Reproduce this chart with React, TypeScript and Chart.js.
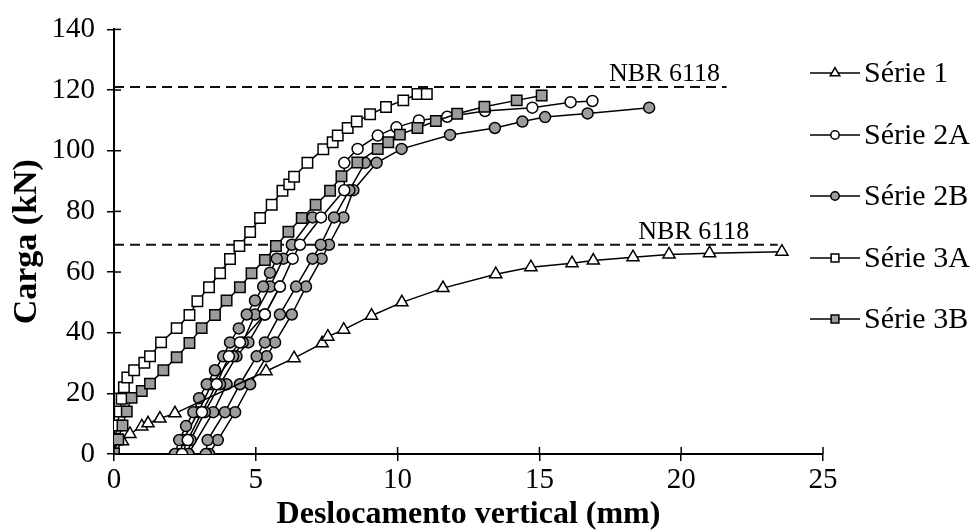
import React, { useEffect, useRef } from "react";
import { Chart, registerables } from "chart.js";
Chart.register(...registerables);

type P = [number, number];

// ---- data (Deslocamento vertical mm, Carga kN) ----
const serie1: P[] = [[0,0],[0.3,4.2],[0.56,6.6],[0.98,9.1],[1.2,10.1],[1.62,11.7],[2.15,13.4],[5.36,27.3],[6.35,31.6],[7.34,36.5],[7.54,38.7],[8.1,41],[9.08,45.6],[10.15,50],[11.6,54.7],[13.46,59.3],[14.7,61.6],[16.15,62.9],[16.9,63.8],[18.3,64.9],[19.57,65.8],[21.0,66.2],[23.55,66.7]];

const serie2A: P[] = [[2.4,0],[2.6,4.6],[3.1,13.8],[3.62,23],[4.05,32.2],[4.44,36.8],[5.32,46],[5.85,55.2],[6.3,64.4],[6.56,69],[7.3,78],[8.12,87],[8.12,96],[8.59,100.6],[9.3,105],[9.96,107.7],[10.75,110],[11.75,111.2],[13.08,113.1],[14.75,114.2],[16.1,116],[16.87,116.4]];

const serie2B_a: P[] = [[2.15,0],[2.3,4.6],[2.54,9.2],[2.8,13.8],[3.0,18.4],[3.27,23],[3.56,27.6],[3.85,32.2],[4.09,36.8],[4.4,41.4],[4.68,46],[4.97,50.6],[5.26,55.2],[5.5,59.8],[5.74,64.4]];
const serie2B_b: P[] = [[2.33,0],[2.44,4.6],[2.97,13.8],[3.44,23],[4.2,32.2],[4.54,36.8],[4.97,46],[5.5,55.2],[5.97,64.4],[6.27,69],[7.0,78]];
const serie2B_c: P[] = [[2.62,0],[2.7,4.6],[3.2,13.8],[3.74,23],[4.32,32.2],[4.74,36.8],[5.32,46],[5.85,55.2]];
const serie2B_d: P[] = [[2.62,0],[3.5,13.8],[3.97,23]];
const serie2B_e: P[] = [[3.24,0],[3.3,4.6],[3.91,13.8],[4.44,23],[5.03,32.2],[5.32,36.8],[5.85,46],[6.42,55.2],[7.0,64.4],[7.29,69],[7.76,78],[8.3,87],[8.85,96]];
const serie2B_f: P[] = [[3.35,0],[3.66,4.6],[4.27,13.8],[4.8,23],[5.38,32.2],[5.68,36.8],[6.27,46],[6.77,55.2],[7.32,64.4],[7.58,69],[8.09,78],[8.44,87],[9.26,96],[10.14,100.6],[11.85,105.2],[13.43,107.5],[14.4,109.6],[15.2,111.1],[16.7,112.3],[18.87,114.2]];

const serie3A: P[] = [[0,0],[0.04,5],[0.12,9.4],[0.2,14],[0.27,18.2],[0.35,22],[0.47,25.2],[0.71,27.6],[1.07,30.1],[1.27,32.2],[1.66,36.8],[2.21,41.5],[2.66,45.8],[2.94,50.4],[3.35,55],[3.74,59.6],[4.09,64.3],[4.42,68.6],[4.8,73.2],[5.15,77.8],[5.56,82.2],[5.94,86.8],[6.18,88.9],[6.35,91.4],[6.82,96],[7.38,100.5],[7.71,102.8],[7.89,105],[8.24,107.5],[8.56,109.6],[9.03,112],[9.59,114.4],[10.2,116.6],[10.7,118.7],[11.03,118.7]];

const serie3B: P[] = [[0,0.2],[0.15,4.8],[0.3,9.4],[0.45,14],[0.62,18.5],[0.98,20.8],[1.27,23.2],[1.74,27.6],[2.21,31.9],[2.66,36.6],[3.09,41.5],[3.56,45.8],[3.97,50.6],[4.44,55],[4.85,59.6],[5.32,64],[5.71,68.6],[6.15,73.3],[6.62,77.8],[7.11,82.2],[7.62,86.8],[8.02,91.6],[8.58,96.1],[9.3,100.6],[9.67,102.8],[10.08,105.3],[10.7,107.5],[11.35,109.8],[12.1,112.2],[13.06,114.5],[14.2,116.6],[15.08,118.2]];

const nbrLoads = [121, 69];
const nbrLineEnds = [21.6, 23.4];
const nbrLabelRight = [21.37, 22.4];
const nbrLabel = "NBR 6118";

const xTickValues = [0, 5, 10, 15, 20, 25];
const yTickValues = [0, 20, 40, 60, 80, 100, 120, 140];
const xTitle = "Deslocamento vertical (mm)";
const yTitle = "Carga (kN)";
const legendNames = ["Série 1", "Série 2A", "Série 2B", "Série 3A", "Série 3B"];

const FONT = "'Liberation Serif', 'Times New Roman', Times, serif";
const GRAY = "#9c9c9c";

type Style = { shape: "triangle" | "circle" | "rect"; fill: string; r: number; lr: number };
const styles: Style[] = [
  { shape: "triangle", fill: "#ffffff", r: 7, lr: 5.5 },
  { shape: "circle", fill: "#ffffff", r: 5.5, lr: 4.2 },
  { shape: "circle", fill: GRAY, r: 5.5, lr: 4.2 },
  { shape: "rect", fill: "#ffffff", r: 7.4, lr: 5.5 },
  { shape: "rect", fill: GRAY, r: 7.4, lr: 5.5 },
];

const toXY = (arr: P[]) => arr.map(([x, y]) => ({ x, y }));

function ds(arr: P[], s: Style, order: number) {
  return {
    data: toXY(arr),
    borderColor: "#000",
    borderWidth: 1.5,
    pointStyle: s.shape,
    pointRadius: s.r,
    pointBackgroundColor: s.fill,
    pointBorderColor: "#000",
    pointBorderWidth: 1.5,
    showLine: true,
    fill: false,
    tension: 0,
    order,
  };
}

function drawMarker(ctx: CanvasRenderingContext2D, s: Style, x: number, y: number, r: number) {
  ctx.beginPath();
  if (s.shape === "circle") ctx.arc(x, y, r, 0, Math.PI * 2);
  else if (s.shape === "rect") {
    const h = r * Math.SQRT1_2;
    ctx.rect(x - h, y - h, 2 * h, 2 * h);
  } else {
    const a = (2 * Math.PI) / 3;
    ctx.moveTo(x, y - r);
    ctx.lineTo(x + Math.sin(a) * r, y - Math.cos(a) * r);
    ctx.lineTo(x + Math.sin(2 * a) * r, y - Math.cos(2 * a) * r);
    ctx.closePath();
  }
  ctx.fillStyle = s.fill;
  ctx.fill();
  ctx.lineWidth = 1.5;
  ctx.strokeStyle = "#000";
  ctx.stroke();
}

const extras = {
  id: "extras",
  afterDraw(chart: any) {
    const { ctx, chartArea } = chart;
    const xs = chart.scales.x;
    const ys = chart.scales.y;
    ctx.save();
    // inner half of crossing ticks
    ctx.strokeStyle = "#000";
    ctx.lineWidth = 1.5;
    xTickValues.forEach((v) => {
      const px = xs.getPixelForValue(v);
      ctx.beginPath();
      ctx.moveTo(px, chartArea.bottom);
      ctx.lineTo(px, chartArea.bottom - 7);
      ctx.stroke();
    });
    yTickValues.forEach((v) => {
      const py = ys.getPixelForValue(v);
      ctx.beginPath();
      ctx.moveTo(chartArea.left, py);
      ctx.lineTo(chartArea.left + 7, py);
      ctx.stroke();
    });
    // NBR labels
    ctx.fillStyle = "#000";
    ctx.font = `26px ${FONT}`;
    ctx.textAlign = "right";
    ctx.textBaseline = "alphabetic";
    nbrLoads.forEach((v, i) => {
      ctx.fillText(nbrLabel, xs.getPixelForValue(nbrLabelRight[i]), ys.getPixelForValue(v) - 6);
    });
    // axis titles
    ctx.textAlign = "center";
    ctx.textBaseline = "middle";
    ctx.font = `bold 32px ${FONT}`;
    ctx.fillText(xTitle, (chartArea.left + chartArea.right) / 2, 515);
    ctx.save();
    ctx.translate(27, (chartArea.top + chartArea.bottom) / 2);
    ctx.rotate(-Math.PI / 2);
    ctx.font = `bold 34px ${FONT}`;
    ctx.fillText(yTitle, 0, 0);
    ctx.restore();
    // legend
    const ly = [73, 135, 196, 258, 319];
    legendNames.forEach((name, i) => {
      const y = ly[i];
      ctx.strokeStyle = "#000";
      ctx.lineWidth = 1.5;
      ctx.beginPath();
      ctx.moveTo(810, y);
      ctx.lineTo(860, y);
      ctx.stroke();
      drawMarker(ctx, styles[i], 835, y, styles[i].lr);
      ctx.fillStyle = "#000";
      ctx.font = `30px ${FONT}`;
      ctx.textAlign = "left";
      ctx.textBaseline = "middle";
      ctx.fillText(name, 864, y + 1);
    });
    ctx.restore();
  },
};

export default function App() {
  const ref = useRef<HTMLCanvasElement | null>(null);
  useEffect(() => {
    document.body.style.margin = "0";
    const canvas = ref.current!;
    const datasets: any[] = [
      ds(serie3B, styles[4], 1),
      ds(serie3A, styles[3], 2),
      ds(serie2A, styles[1], 3),
      ds(serie1, styles[0], 4),
      ds(serie2B_a, styles[2], 5),
      ds(serie2B_b, styles[2], 5),
      ds(serie2B_c, styles[2], 5),
      ds(serie2B_d, styles[2], 5),
      ds(serie2B_e, styles[2], 5),
      ds(serie2B_f, styles[2], 5),
    ];
    nbrLoads.forEach((v, i) => {
      datasets.push({
        data: [
          { x: 0, y: v },
          { x: nbrLineEnds[i], y: v },
        ],
        borderColor: "#111",
        borderWidth: 2,
        borderDash: [10, 6],
        pointRadius: 0,
        showLine: true,
        fill: false,
        order: 6,
      });
    });
    const chart = new Chart(canvas, {
      type: "scatter",
      data: { datasets },
      options: {
        responsive: false,
        animation: false,
        events: [],
        layout: { padding: { left: 0, right: 148, top: 24, bottom: 0 } },
        plugins: { legend: { display: false }, tooltip: { enabled: false } },
        scales: {
          x: {
            type: "linear",
            min: 0,
            max: 25,
            afterFit: (s: any) => {
              s.height = 77;
            },
            afterBuildTicks: (s: any) => {
              s.ticks = xTickValues.map((v) => ({ value: v }));
            },
            border: { color: "#000", width: 2 },
            grid: { drawOnChartArea: false, drawTicks: true, tickLength: 7, color: "#000", lineWidth: 1.5 },
            ticks: { color: "#000", font: { family: FONT, size: 29 }, padding: 2, maxRotation: 0 },
          },
          y: {
            type: "linear",
            min: 0,
            max: 140,
            afterFit: (s: any) => {
              s.width = 114;
            },
            afterBuildTicks: (s: any) => {
              s.ticks = yTickValues.map((v) => ({ value: v }));
            },
            border: { color: "#000", width: 2 },
            grid: { drawOnChartArea: false, drawTicks: true, tickLength: 7, color: "#000", lineWidth: 1.5 },
            ticks: { color: "#000", font: { family: FONT, size: 29 }, padding: 12 },
          },
        },
      },
      plugins: [extras],
    });
    return () => chart.destroy();
  }, []);
  return (
    <div style={{ width: 971, height: 531 }}>
      <canvas ref={ref} width={971} height={531} />
    </div>
  );
}
